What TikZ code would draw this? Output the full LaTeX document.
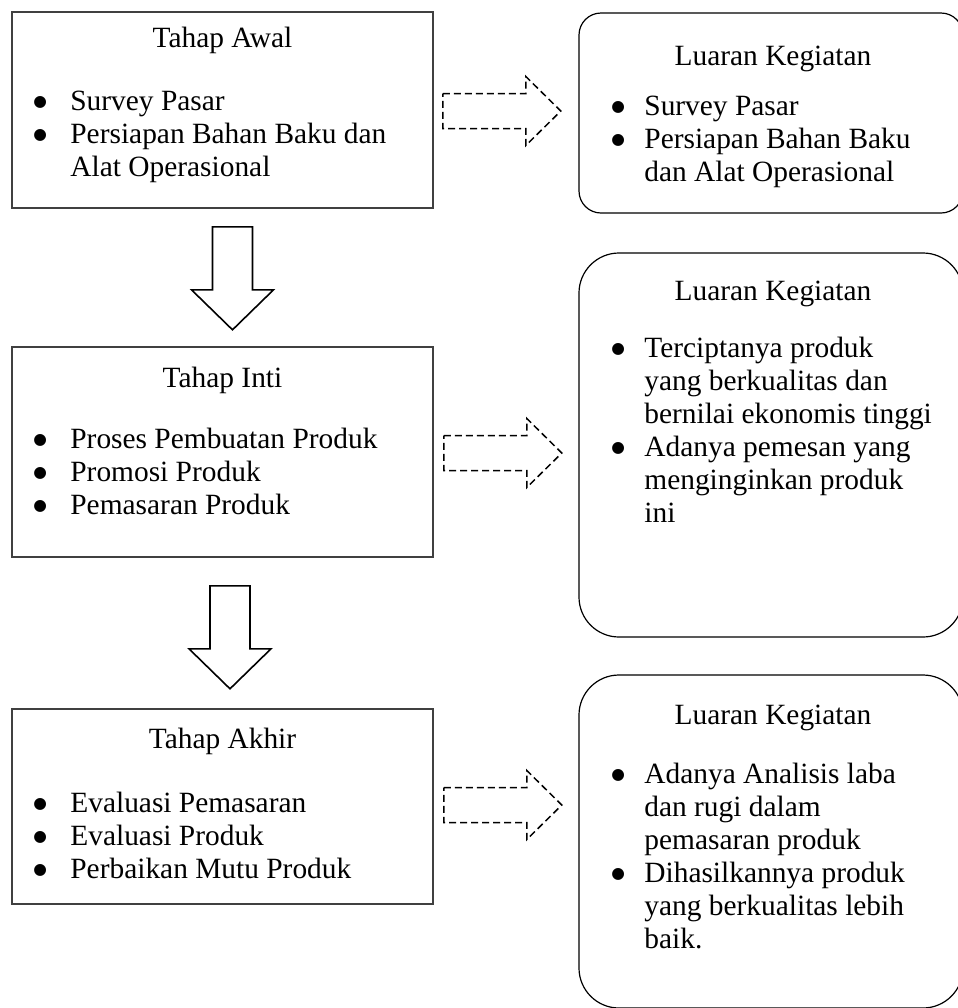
\documentclass[tikz,border=0pt]{standalone}
\usepackage{fontspec}
\setmainfont{Liberation Serif}
\newfontfamily\tanda{DejaVu Sans}
\usetikzlibrary{calc}

\newcommand{\butir}{\raisebox{2pt}{\tanda\fontsize{7.8}{9}\selectfont ●} &}

\tikzset{
  tahap/.style={draw=black!75, line width=0.8pt, inner sep=0pt, minimum width=210.5pt},
  luaran/.style={draw, line width=0.6pt, inner sep=0pt, minimum width=192pt},
  judul/.style={anchor=base, inner sep=0pt},
  isi/.style={anchor=base west, inner sep=0pt},
  turun/.pic={
    \draw[line width=0.8pt] (-20,0) -- (20,0) -- (20,63) -- (41,63) -- (0,103)
      -- (-41,63) -- (-20,63) -- cycle;
  },
  kanan/.pic={
    \draw[line width=0.75pt, dash pattern=on 3.5pt off 2pt] (0,-17.5) -- (83,-17.5)
      -- (83,-34.5) -- (118,0) -- (83,34.5) -- (83,17.5) -- (0,17.5) -- cycle;
  }
}

\begin{document}
\begin{tikzpicture}[x=0.5pt, y=-0.5pt, font=\fontsize{14.7}{16.5}\selectfont]
    \useasboundingbox (0,0) rectangle (958,1008);

    % Tahap (left column)
    \node[tahap, minimum height=98pt]   (awal)  at (222.5,110) {};
    \node[tahap, minimum height=105pt]  (inti)  at (222.5,452) {};
    \node[tahap, minimum height=97.5pt] (akhir) at (222.5,806.5) {};

    % Luaran (right column)
    \node[luaran, rounded corners=11pt, minimum height=100pt]   (luaranA) at (771,113) {};
    \node[luaran, rounded corners=20pt, minimum height=192pt]   (luaranB) at (771,445) {};
    \node[luaran, rounded corners=20pt, minimum height=166.5pt] (luaranC) at (771,841.5) {};

    % Texts of the stages
    \node[judul] (awalJudul) at (222.5,47) {Tahap Awal};
    \node[isi] (awalIsi) at (33,110) {\begin{tabular}[t]{@{}p{18.5pt}@{}l@{}}
        \butir Survey Pasar\\
        \butir Persiapan Bahan Baku dan\\
        & Alat Operasional
      \end{tabular}};

    \node[judul] (intiJudul) at (222.5,387) {Tahap Inti};
    \node[isi] (intiIsi) at (33,448) {\begin{tabular}[t]{@{}p{18.5pt}@{}l@{}}
        \butir Proses Pembuatan Produk\\
        \butir Promosi Produk\\
        \butir Pemasaran Produk
      \end{tabular}};

    \node[judul] (akhirJudul) at (222.5,748) {Tahap Akhir};
    \node[isi] (akhirIsi) at (33,812) {\begin{tabular}[t]{@{}p{18.5pt}@{}l@{}}
        \butir Evaluasi Pemasaran\\
        \butir Evaluasi Produk\\
        \butir Perbaikan Mutu Produk
      \end{tabular}};

    % Texts of the outputs
    \node[judul] (luaranAJudul) at (773,65) {Luaran Kegiatan};
    \node[isi] (luaranAIsi) at (611,115) {\begin{tabular}[t]{@{}p{16.5pt}@{}l@{}}
        \butir Survey Pasar\\
        \butir Persiapan Bahan Baku\\
        & dan Alat Operasional
      \end{tabular}};

    \node[judul] (luaranBJudul) at (773,300) {Luaran Kegiatan};
    \node[isi] (luaranBIsi) at (611,357) {\begin{tabular}[t]{@{}p{16.5pt}@{}l@{}}
        \butir Terciptanya produk\\
        & yang berkualitas dan\\
        & bernilai ekonomis tinggi\\
        \butir Adanya pemesan yang\\
        & menginginkan produk\\
        & ini
      \end{tabular}};

    \node[judul] (luaranCJudul) at (773,724) {Luaran Kegiatan};
    \node[isi] (luaranCIsi) at (611,783) {\begin{tabular}[t]{@{}p{16.5pt}@{}l@{}}
        \butir Adanya Analisis laba\\
        & dan rugi dalam\\
        & pemasaran produk\\
        \butir Dihasilkannya produk\\
        & yang berkualitas lebih\\
        & baik.
      \end{tabular}};

    % Block arrows
    \pic at ($(awal.south)+(10,18)$) {turun};
    \pic at ($(inti.south)+(7.5,28)$) {turun};
    \pic at ($(awal.east)+(9,1)$) {kanan};
    \pic at ($(inti.east)+(10,1)$) {kanan};
    \pic at ($(akhir.east)+(10,-1.5)$) {kanan};
\end{tikzpicture}
\end{document}
